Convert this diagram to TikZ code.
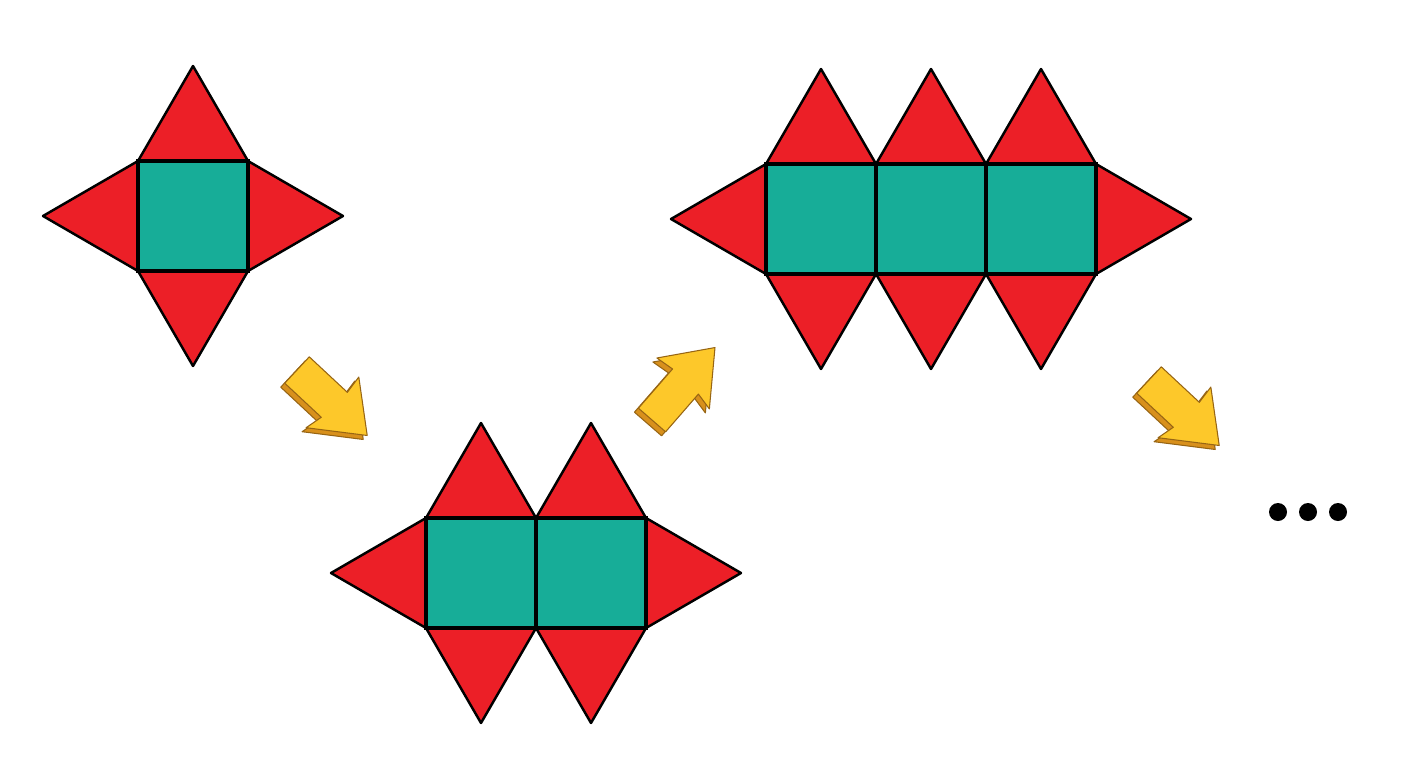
\documentclass[tikz,border=0pt]{standalone}
\usepackage{tikz}

\definecolor{netred}{HTML}{EC1F27}
\definecolor{netteal}{HTML}{17AD98}
\definecolor{arrowyellow}{HTML}{FDC82A}
\definecolor{arrowdark}{HTML}{D8901C}

\tikzset{
  tri/.style={fill=netred,draw=black,line width=0.7pt,line join=round},
  sq/.style={fill=netteal,draw=black,line width=1.3pt},
  arrowface/.style={fill=arrowyellow,draw=arrowdark!70!black,line width=0.3pt,line join=round},
  arrowside/.style={fill=arrowdark,draw=arrowdark!70!black,line width=0.3pt,line join=round}
}

% net of n squares with triangles, lower left corner at (#2,#3)
\newcommand{\prismnet}[3]{%
  \begin{scope}[shift={(#2,#3)}]
  \def\a{1.1}
  \def\h{0.95}
  \foreach \i in {1,...,#1}{
    \draw[tri] ({(\i-1)*\a},\a) -- ({(\i-0.5)*\a},{\a+\h}) -- ({\i*\a},\a) -- cycle;
    \draw[tri] ({(\i-1)*\a},0) -- ({(\i-0.5)*\a},-\h) -- ({\i*\a},0) -- cycle;
  }
  \draw[tri] (0,0) -- (-\h,{\a/2}) -- (0,\a) -- cycle;
  \draw[tri] ({#1*\a},0) -- ({#1*\a+\h},{\a/2}) -- ({#1*\a},\a) -- cycle;
  \foreach \i in {1,...,#1}
    \draw[sq] ({(\i-1)*\a},0) rectangle ({\i*\a},\a);
  \end{scope}}

% yellow arrow, tail centre at (#1,#2), turned by #3
\newcommand{\yarrow}[3]{%
  \draw[arrowside,shift={(-0.04,-0.04)}] [shift={(#1,#2)},rotate=#3]
    (0,-0.18) -- (0.5,-0.18) -- (0.46,-0.36) -- (0.96,0) -- (0.5,0.37) -- (0.52,0.18) -- (0,0.18) -- cycle;
  \draw[arrowface] [shift={(#1,#2)},rotate=#3]
    (0,-0.18) -- (0.5,-0.18) -- (0.46,-0.36) -- (0.96,0) -- (0.5,0.37) -- (0.52,0.18) -- (0,0.18) -- cycle;}

\begin{document}
\begin{tikzpicture}
\useasboundingbox (0,0) rectangle (14.04,7.64);

\prismnet{1}{1.38}{4.93}
\prismnet{2}{4.26}{1.36}
\prismnet{3}{7.66}{4.90}

\yarrow{2.97}{3.94}{-43}
\yarrow{6.52}{3.44}{49}
\yarrow{11.49}{3.84}{-43}

\foreach \x in {12.78,13.08,13.38}
  \fill (\x,2.52) circle (0.09);

\end{tikzpicture}
\end{document}
